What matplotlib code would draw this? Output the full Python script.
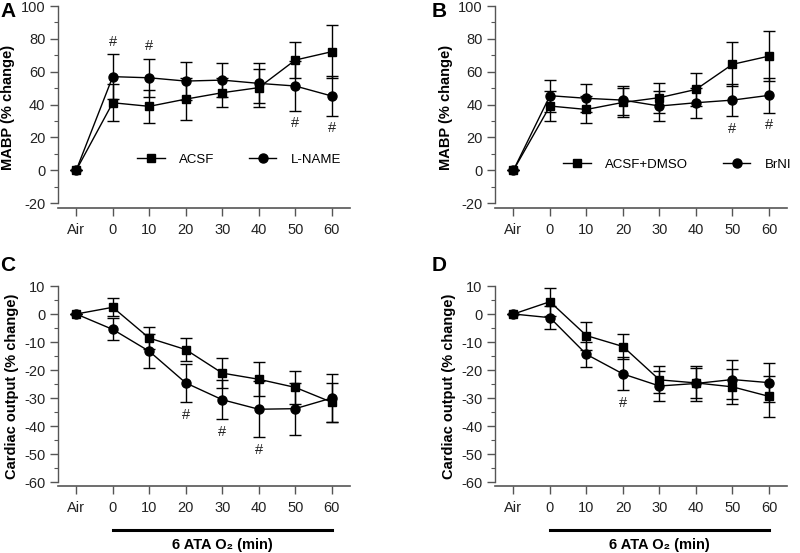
import numpy as np
import matplotlib
matplotlib.use("Agg")
import matplotlib.pyplot as plt
import matplotlib.transforms as mtransforms
from matplotlib.ticker import MultipleLocator

plt.rcParams['font.family'] = ['Liberation Sans', 'DejaVu Sans']
plt.rcParams['axes.unicode_minus'] = False

# x categories (Air + minutes of 6 ATA O2)
x_labels = ['Air', '0', '10', '20', '30', '40', '50', '60']

# Panel A: MABP, ACSF vs L-NAME
a_acsf = [0, 41.1, 38.9, 43.3, 47.2, 50.3, 67.1, 72.2]
a_acsf_err = [0, 11.4, 10.0, 12.8, 9.0, 11.5, 11.0, 16.0]
a_lname = [0, 57.0, 56.3, 54.3, 54.9, 52.9, 51.3, 45.2]
a_lname_err = [0, 13.6, 11.5, 11.4, 10.6, 12.2, 15.0, 12.0]

# Panel B: MABP, ACSF+DMSO vs BrNI
b_dmso = [0, 39.1, 37.0, 41.3, 44.2, 49.2, 64.5, 69.5]
b_dmso_err = [0, 9.0, 8.0, 8.8, 9.2, 10.2, 13.5, 15.3]
b_brni = [0, 45.4, 43.8, 42.7, 39.1, 41.1, 42.7, 45.6]
b_brni_err = [0, 9.8, 8.5, 8.8, 9.2, 9.0, 9.7, 10.5]

# Panel C: cardiac output, ACSF vs L-NAME
c_acsf = [0, 2.4, -8.6, -12.7, -21.1, -23.3, -26.2, -31.5]
c_acsf_err = [0, 3.2, 4.0, 4.2, 5.3, 6.0, 6.0, 7.0]
c_lname = [0, -5.5, -13.3, -24.6, -30.6, -34.0, -33.8, -30.0]
c_lname_err = [0, 3.9, 6.0, 6.9, 7.0, 10.0, 9.3, 8.7]

# Panel D: cardiac output, ACSF+DMSO vs BrNI
d_dmso = [0, 4.4, -7.7, -11.6, -23.5, -24.6, -26.0, -29.4]
d_dmso_err = [0, 5.0, 5.0, 4.6, 4.8, 5.5, 6.2, 7.2]
d_brni = [0, -1.3, -14.4, -21.4, -25.7, -24.8, -23.4, -24.5]
d_brni_err = [0, 4.2, 4.5, 5.9, 5.3, 6.2, 7.0, 7.0]

# significance marks (#) on the circle series: (index, +1 above / -1 below)
a_hash = [(1, 1), (2, 1), (6, -1), (7, -1)]
b_hash = [(6, -1), (7, -1)]
c_hash = [(3, -1), (4, -1), (5, -1)]
d_hash = [(3, -1)]

axis_col = '#555555'
x = np.arange(len(x_labels))

fig = plt.figure(figsize=(8, 5.53), dpi=100)

top_row = [0.624, 0.989]
bot_row = [0.1212, 0.4828]
left_cols = [0.0725, 0.619]
width = 0.365

panels = [
    ('A', left_cols[0], top_row, a_acsf, a_acsf_err, a_lname, a_lname_err, a_hash,
     'MABP (% change)', (-23, 100), (-20, 100), 20, ('ACSF', 'L-NAME'), (0.27, 0.238)),
    ('B', left_cols[1], top_row, b_dmso, b_dmso_err, b_brni, b_brni_err, b_hash,
     'MABP (% change)', (-23, 100), (-20, 100), 20, ('ACSF+DMSO', 'BrNI'), (0.233, 0.213)),
    ('C', left_cols[0], bot_row, c_acsf, c_acsf_err, c_lname, c_lname_err, c_hash,
     'Cardiac output (% change)', (-61.4, 10), (-60, 10), 10, None, None),
    ('D', left_cols[1], bot_row, d_dmso, d_dmso_err, d_brni, d_brni_err, d_hash,
     'Cardiac output (% change)', (-61.4, 10), (-60, 10), 10, None, None),
]

for (letter, left, row, sq, sq_err, ci, ci_err, hashes, ylab, ylim, ybounds,
     ystep, leg, leg_pos) in panels:
    ax = fig.add_axes([left, row[0], width, row[1] - row[0]])

    l1 = ax.errorbar(x, sq, yerr=sq_err, fmt='-s', color='black', ms=5.5,
                     lw=1, elinewidth=1, capsize=4.5, capthick=1, zorder=3)
    l2 = ax.errorbar(x, ci, yerr=ci_err, fmt='-o', color='black', ms=6.5,
                     lw=1, elinewidth=1, capsize=4.5, capthick=1, zorder=3)

    for idx, side in hashes:
        yv = ci[idx] + side * ci_err[idx]
        ax.annotate('#', (x[idx], yv), xytext=(0, side * 9), textcoords='offset points',
                    ha='center', va='center', fontsize=10.5, color='#222222')

    ax.set_xlim(-0.5, 7.5)
    ax.set_ylim(*ylim)
    ax.spines['top'].set_visible(False)
    ax.spines['right'].set_visible(False)
    ax.spines['left'].set_bounds(*ybounds)
    ax.spines['left'].set_color(axis_col)
    ax.spines['bottom'].set_color(axis_col)
    ax.spines['left'].set_linewidth(1)
    ax.spines['bottom'].set_linewidth(1.2)

    ax.set_xticks(x)
    ax.set_xticklabels(x_labels)
    ax.set_yticks(np.arange(ybounds[0], ybounds[1] + 1, ystep))
    ax.yaxis.set_minor_locator(MultipleLocator(ystep / 2))
    ax.tick_params(axis='both', which='major', direction='out', length=6, width=1,
                   color=axis_col, labelsize=10.5, labelcolor='#222222')
    ax.tick_params(axis='y', which='minor', direction='out', length=3, width=0.8,
                   color=axis_col)
    ax.tick_params(axis='x', pad=5)
    ax.tick_params(axis='y', pad=3)
    ax.set_ylabel(ylab, fontweight='bold', fontsize=10.5, labelpad=4)

    if leg is not None:
        ax.legend([l1[0], l2[0]], leg, ncol=2, frameon=False, loc='center left',
                  bbox_to_anchor=leg_pos, borderpad=0, borderaxespad=0,
                  handlelength=2.1, handletextpad=1.1, columnspacing=2.6,
                  fontsize=9.5, markerscale=1.0)
    else:
        trans = mtransforms.blended_transform_factory(ax.transData, ax.transAxes)
        ax.plot([x[1], x[-1]], [-0.22, -0.22], color='black', lw=2.2,
                transform=trans, clip_on=False)
        ax.text((x[1] + x[-1]) / 2, -0.295, '6 ATA O₂ (min)', transform=trans,
                ha='center', va='center', fontsize=10.5, fontweight='bold')

    fig_y = row[1] - 0.01 if letter in 'AB' else 0.52
    fig.text(left - (0.063 if letter in 'AC' else 0.07), fig_y, letter,
             fontsize=15, fontweight='bold', ha='center', va='center')

fig.savefig('out.png', dpi=100)
